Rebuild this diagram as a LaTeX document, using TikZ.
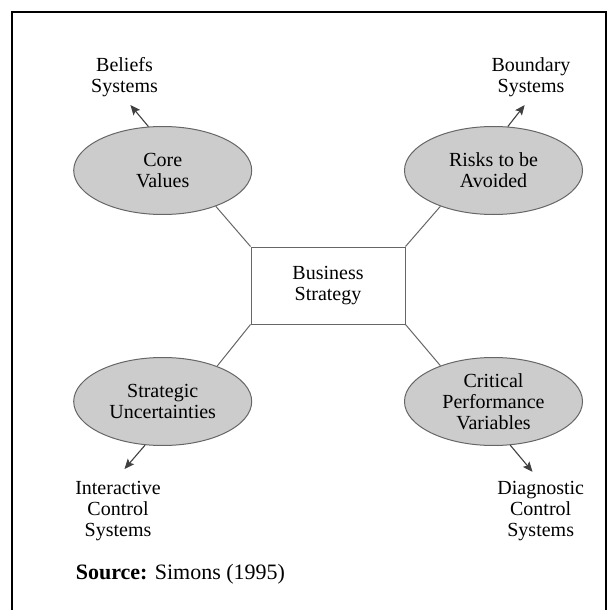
\documentclass[tikz,border=0pt]{standalone}
\usepackage{fontspec}
\setmainfont{Liberation Serif}
\usetikzlibrary{shapes.geometric,arrows.meta}
\colorlet{ovalgray}{black!20}
\colorlet{linegray}{black!60}
\tikzset{oval/.style={ellipse,draw=linegray,fill=ovalgray,line width=1pt,minimum width=178pt,minimum height=88pt,inner sep=0pt,align=center},
         stratbox/.style={rectangle,draw=linegray,line width=1pt,minimum width=154pt,minimum height=77pt,align=center},
         lever/.style={align=center,inner sep=0pt},
         link/.style={draw=linegray,line width=1pt},
         push/.style={draw=black!75,line width=1.1pt,-{Stealth[length=10pt,width=8.5pt,inset=2pt]}}
}
\begin{document}
\begin{tikzpicture}[x=1pt,y=-1pt,font=\fontsize{20}{21}\selectfont]
  \useasboundingbox (0,0) rectangle (614,610);
  \draw[line width=2pt] (12,610) -- (12,12) -- (606,12) -- (606,610);
  % centre and the four ovals
  \node[stratbox] (strat) at (328,285.5) {Business\\Strategy};
  \node[oval] (core) at (162.7,170.5) {Core\\Values};
  \node[oval] (risks) at (493.5,170.5) {Risks to be\\Avoided};
  \node[oval] (uncert) at (162.7,401.5) {Strategic\\Uncertainties};
  \node[oval] (perf) at (493.5,401.5) {Critical\\Performance\\Variables};
  \draw[link] (strat.north west) -- (core.-34);
  \draw[link] (strat.north east) -- (risks.-146);
  \draw[link] (strat.south west) -- (uncert.33);
  \draw[link] (strat.south east) -- (perf.146);
  % levers of control
  \node[lever] (beliefs) at (124.5,77) {Beliefs\\Systems};
  \node[lever] (boundary) at (531,77) {Boundary\\Systems};
  \node[lever] (interactive) at (118,511) {Interactive\\Control\\Systems};
  \node[lever] (diagnostic) at (540.7,511) {Diagnostic\\Control\\Systems};
  \coordinate (beliefstip) at (130.4,105);
  \coordinate (boundarytip) at (524.7,105);
  \coordinate (interactivetip) at (124.5,469);
  \coordinate (diagnostictip) at (532.5,471.8);
  \draw[push] (core.108.5) -- (beliefstip);
  \draw[push] (risks.72.5) -- (boundarytip);
  \draw[push] (uncert.248) -- (interactivetip);
  \draw[push] (perf.-69.3) -- (diagnostictip);
  \node[anchor=west,inner sep=0pt,font=\fontsize{22}{24}\selectfont] (source) at (75.6,574) {\textbf{Source:} Simons (1995)};
\end{tikzpicture}
\end{document}
